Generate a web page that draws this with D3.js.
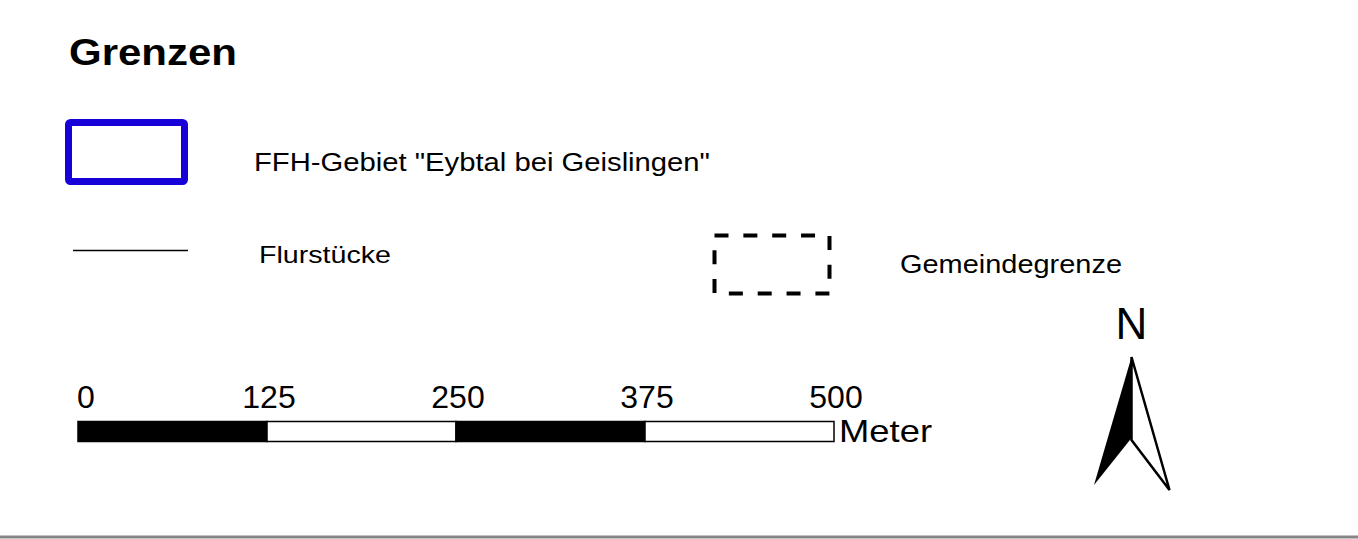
<!DOCTYPE html>
<html>
<head>
<meta charset="utf-8">
<script src="https://cdn.jsdelivr.net/npm/d3@7"></script>
<style>
  body { margin: 0; background: #fff; }
  svg { display: block; font-family: "Liberation Sans", Arial, sans-serif; }
</style>
</head>
<body>
<script>
// legend content
const title = "Grenzen";
const legendLabels = ["FFH-Gebiet \"Eybtal bei Geislingen\"", "Flurstücke", "Gemeindegrenze"];
const scaleTicks = [0, 125, 250, 375, 500];
const scaleUnit = "Meter";
const northLabel = "N";

const width = 1358, height = 539;

const svg = d3.select("body").append("svg")
    .attr("width", width)
    .attr("height", height);

svg.append("rect").attr("width", width).attr("height", height).attr("fill", "#fff");

// title
svg.append("text")
    .attr("x", 69).attr("y", 65)
    .attr("font-size", 37).attr("font-weight", "bold")
    .attr("textLength", 168).attr("lengthAdjust", "spacingAndGlyphs")
    .text(title);

// FFH area symbol
svg.append("rect")
    .attr("x", 68.5).attr("y", 122.5)
    .attr("width", 116).attr("height", 59)
    .attr("rx", 2)
    .attr("fill", "none")
    .attr("stroke", "#1800d8")
    .attr("stroke-width", 7);

svg.append("text")
    .attr("x", 254).attr("y", 171)
    .attr("font-size", 26)
    .attr("textLength", 456).attr("lengthAdjust", "spacingAndGlyphs")
    .text(legendLabels[0]);

// parcels symbol
svg.append("line")
    .attr("x1", 73).attr("x2", 188)
    .attr("y1", 250.5).attr("y2", 250.5)
    .attr("stroke", "#000")
    .attr("stroke-width", 1.3);

svg.append("text")
    .attr("x", 259).attr("y", 263)
    .attr("font-size", 24)
    .attr("textLength", 132).attr("lengthAdjust", "spacingAndGlyphs")
    .text(legendLabels[1]);

// municipal border symbol
svg.append("rect")
    .attr("x", 714.5).attr("y", 235.5)
    .attr("width", 115).attr("height", 58)
    .attr("fill", "none")
    .attr("stroke", "#000")
    .attr("stroke-width", 4)
    .attr("stroke-dasharray", "14 14.85");

svg.append("text")
    .attr("x", 900).attr("y", 273)
    .attr("font-size", 25)
    .attr("textLength", 222).attr("lengthAdjust", "spacingAndGlyphs")
    .text(legendLabels[2]);

// scale bar
const x = d3.scaleLinear().domain([0, 500]).range([78, 834]);
const segs = d3.pairs(scaleTicks);
const barTop = 421.5, barH = 20;

svg.append("g").selectAll("rect")
    .data(segs)
    .enter()
    .append("rect")
    .attr("x", d => x(d[0]))
    .attr("y", barTop)
    .attr("width", d => x(d[1]) - x(d[0]))
    .attr("height", barH)
    .attr("fill", (d, i) => i % 2 === 0 ? "#000" : "#fff")
    .attr("stroke", "#000")
    .attr("stroke-width", 1.5);

svg.append("g").selectAll("text")
    .data(scaleTicks)
    .enter()
    .append("text")
    .attr("x", (d, i) => i === 0 ? x(d) - 1 : x(d) + 2)
    .attr("y", 408)
    .attr("font-size", 32)
    .attr("text-anchor", (d, i) => i === 0 ? "start" : "middle")
    .text(d => d);

svg.append("text")
    .attr("x", 839).attr("y", 442)
    .attr("font-size", 32)
    .attr("textLength", 93).attr("lengthAdjust", "spacingAndGlyphs")
    .text(scaleUnit);

// north arrow
const nx = 1131.5;
svg.append("text")
    .attr("x", nx).attr("y", 339)
    .attr("font-size", 44)
    .attr("text-anchor", "middle")
    .text(northLabel);

svg.append("path")
    .attr("d", `M${nx},357 L1169.5,490 L${nx},440 Z`)
    .attr("fill", "#fff")
    .attr("stroke", "#000")
    .attr("stroke-width", 2.5)
    .attr("stroke-linejoin", "miter");

svg.append("path")
    .attr("d", `M${nx},357 L1094,485 L${nx},438 Z`)
    .attr("fill", "#000");

// bottom border
svg.append("rect")
    .attr("x", 0).attr("y", 535.5)
    .attr("width", width).attr("height", 3)
    .attr("fill", "#858585");
</script>
</body>
</html>
